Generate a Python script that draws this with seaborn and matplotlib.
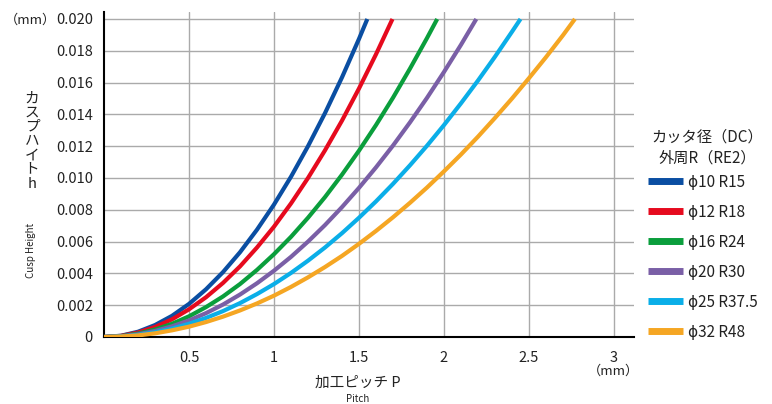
import matplotlib
matplotlib.use("Agg")
import matplotlib.pyplot as plt
import seaborn as sns
import pandas as pd

# ---- data ----
series_names = ["ϕ10 R15", "ϕ12 R18", "ϕ16 R24", "ϕ20 R30", "ϕ25 R37.5", "ϕ32 R48"]
colors = ["#0A4EA2", "#E60A1E", "#0A9E3C", "#7A5FA6", "#0AAEE8", "#F5A623"]

p_r15 = [0, 0.1, 0.2, 0.3, 0.4, 0.5, 0.6, 0.7, 0.8, 0.9, 1.0, 1.1, 1.2, 1.3, 1.4, 1.5, 1.549]
h_r15 = [0, 0.00008, 0.00033, 0.00075, 0.00133, 0.00208, 0.0030, 0.00408, 0.00533, 0.00675,
         0.00833, 0.01008, 0.0120, 0.01408, 0.01633, 0.01875, 0.0200]

p_r18 = [0, 0.1, 0.2, 0.3, 0.4, 0.5, 0.6, 0.7, 0.8, 0.9, 1.0, 1.1, 1.2, 1.3, 1.4, 1.5, 1.6, 1.697]
h_r18 = [0, 0.00007, 0.00028, 0.00063, 0.00111, 0.00174, 0.0025, 0.0034, 0.00444, 0.00563,
         0.00694, 0.0084, 0.0100, 0.01174, 0.01361, 0.01563, 0.01778, 0.0200]

p_r24 = [0, 0.1, 0.2, 0.3, 0.4, 0.5, 0.6, 0.7, 0.8, 0.9, 1.0, 1.1, 1.2, 1.3, 1.4, 1.5, 1.6, 1.7,
         1.8, 1.9, 1.96]
h_r24 = [0, 0.00005, 0.00021, 0.00047, 0.00083, 0.0013, 0.00188, 0.00255, 0.00333, 0.00422,
         0.00521, 0.0063, 0.0075, 0.0088, 0.01021, 0.01172, 0.01333, 0.01505, 0.01688, 0.0188,
         0.0200]

p_r30 = [0, 0.1, 0.2, 0.3, 0.4, 0.5, 0.6, 0.7, 0.8, 0.9, 1.0, 1.1, 1.2, 1.3, 1.4, 1.5, 1.6, 1.7,
         1.8, 1.9, 2.0, 2.1, 2.19]
h_r30 = [0, 0.00004, 0.00017, 0.00038, 0.00067, 0.00104, 0.0015, 0.00204, 0.00267, 0.00338,
         0.00417, 0.00504, 0.0060, 0.00704, 0.00817, 0.00938, 0.01067, 0.01204, 0.0135, 0.01504,
         0.01667, 0.01838, 0.0200]

p_r375 = [0, 0.1, 0.2, 0.3, 0.4, 0.5, 0.6, 0.7, 0.8, 0.9, 1.0, 1.1, 1.2, 1.3, 1.4, 1.5, 1.6, 1.7,
          1.8, 1.9, 2.0, 2.1, 2.2, 2.3, 2.4, 2.45]
h_r375 = [0, 0.00003, 0.00013, 0.0003, 0.00053, 0.00083, 0.0012, 0.00163, 0.00213, 0.0027,
          0.00333, 0.00403, 0.0048, 0.00563, 0.00653, 0.0075, 0.00853, 0.00963, 0.0108, 0.01203,
          0.01333, 0.0147, 0.01613, 0.01763, 0.0192, 0.0200]

p_r48 = [0, 0.1, 0.2, 0.3, 0.4, 0.5, 0.6, 0.7, 0.8, 0.9, 1.0, 1.1, 1.2, 1.3, 1.4, 1.5, 1.6, 1.7,
         1.8, 1.9, 2.0, 2.1, 2.2, 2.3, 2.4, 2.5, 2.6, 2.7, 2.77]
h_r48 = [0, 0.00003, 0.0001, 0.00023, 0.00042, 0.00065, 0.00094, 0.00128, 0.00167, 0.00211,
         0.0026, 0.00315, 0.00375, 0.0044, 0.0051, 0.00586, 0.00667, 0.00753, 0.00844, 0.0094,
         0.01042, 0.01148, 0.0126, 0.01378, 0.0150, 0.01628, 0.0176, 0.01898, 0.0200]

x_ticks = [0.5, 1, 1.5, 2, 2.5, 3]
x_ticklabels = ["0.5", "1", "1.5", "2", "2.5", "3"]
y_ticks = [0, 0.002, 0.004, 0.006, 0.008, 0.010, 0.012, 0.014, 0.016, 0.018, 0.020]
y_ticklabels = ["0", "0.002", "0.004", "0.006", "0.008", "0.010", "0.012", "0.014",
                "0.016", "0.018", "0.020"]
legend_title_lines = ["カッタ径（DC）", "外周R（RE2）"]

ps = [p_r15, p_r18, p_r24, p_r30, p_r375, p_r48]
hs = [h_r15, h_r18, h_r24, h_r30, h_r375, h_r48]
rows = []
for name, p, h in zip(series_names, ps, hs):
    for a, b in zip(p, h):
        rows.append({"P": a, "h": b, "series": name})
df = pd.DataFrame(rows)

# ---- plot ----
sns.set_style("white")
plt.rcParams['font.family'] = ['Noto Sans CJK JP', 'DejaVu Sans']

fig = plt.figure(figsize=(7.72, 4.04), dpi=100)
ax = fig.add_axes([104/772, 1-337/404, (634-104)/772, (337-12)/404])

sns.lineplot(data=df, x="P", y="h", hue="series", hue_order=series_names,
             palette=colors, linewidth=3.0, ax=ax, sort=False, estimator=None,
             solid_capstyle="butt", zorder=3)

ax.set_xlim(0, 530/170)
ax.set_ylim(0, 0.02 * 325/318)
ax.set_xticks(x_ticks)
ax.set_xticklabels(x_ticklabels)
ax.set_yticks(y_ticks)
ax.set_yticklabels(y_ticklabels)
ax.tick_params(axis='both', direction='out', length=6, width=1.2, color='black',
               labelsize=10.5, pad=2, labelcolor='#222222')
ax.tick_params(axis='x', pad=4)
ax.grid(True, color='#AAAAAA', linewidth=1.0, zorder=0)
ax.set_axisbelow(True)
for s in ['top', 'right']:
    ax.spines[s].set_visible(False)
for s in ['left', 'bottom']:
    ax.spines[s].set_color('black')
    ax.spines[s].set_linewidth(1.5)
ax.set_xlabel("")
ax.set_ylabel("")

# axis texts
fig.text(30/772, 1-20/404, "（mm）", ha='center', va='center', fontsize=9.5, color='#222222')
fig.text(613/772, 1-371/404, "（mm）", ha='center', va='center', fontsize=9.5, color='#222222')
fig.text(32/772, 1-141/404, "カ\nス\nプ\nハ\nイ\nト\nh", ha='center', va='center',
         fontsize=10.5, linespacing=1.02, color='#222222')
fig.text(31/772, 1-250/404, "Cusp Height", ha='center', va='center', rotation=90,
         fontsize=7, color='#222222')
fig.text(358/772, 1-383/404, "加工ピッチ P", ha='center', va='center', fontsize=10.5,
         color='#222222')
fig.text(358/772, 1-399/404, "Pitch", ha='center', va='center', fontsize=7, color='#222222')

# legend title (two centred lines)
fig.text(707/772, 1-137/404, legend_title_lines[0], ha='center', va='center', fontsize=11,
         color='#222222')
fig.text(707/772, 1-158/404, legend_title_lines[1], ha='center', va='center', fontsize=11,
         color='#222222')

# legend
handles, labels = ax.get_legend_handles_labels()
for hd in handles:
    hd.set_linewidth(5)
leg = ax.legend(handles, labels,
                loc='upper left', bbox_to_anchor=(634/772, 1-160/404),
                bbox_transform=fig.transFigure, frameon=False, fontsize=11,
                handlelength=2.3, handletextpad=0.35, labelspacing=0.85)
for t in leg.get_texts():
    t.set_color('#222222')

fig.savefig("out.png", dpi=100)
